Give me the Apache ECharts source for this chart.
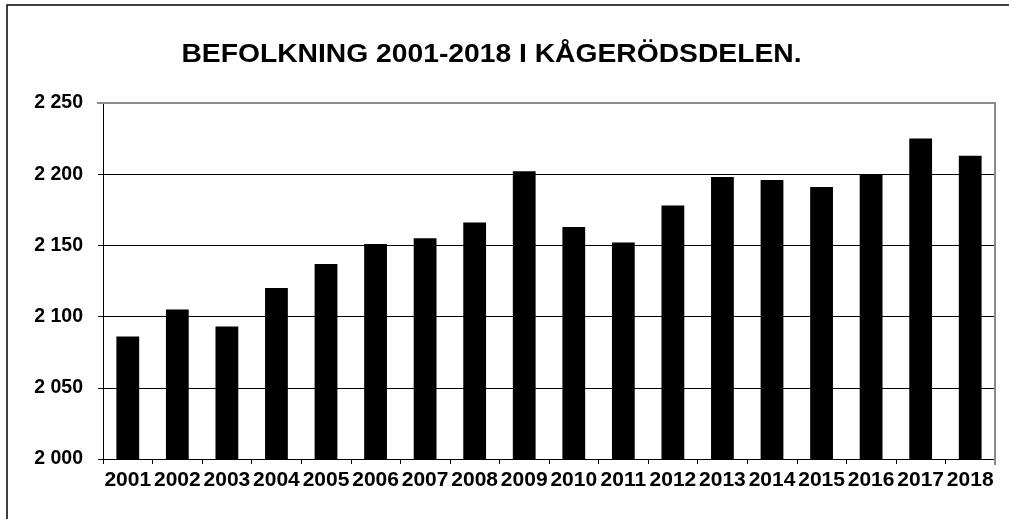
<!DOCTYPE html>
<html>
<head>
<meta charset="utf-8">
<script src="https://cdn.jsdelivr.net/npm/echarts@6/dist/echarts.min.js"></script>
<style>
html,body{margin:0;padding:0;background:#fff;}
#chart{width:1009px;height:519px;}
</style>
</head>
<body>
<div id="chart"></div>
<script>
const titleText = 'BEFOLKNING 2001-2018 I KÅGERÖDSDELEN.';
const years = ['2001','2002','2003','2004','2005','2006','2007','2008','2009','2010','2011','2012','2013','2014','2015','2016','2017','2018'];
const population = [2086, 2105, 2093, 2120, 2137, 2151, 2155, 2166, 2202, 2163, 2152, 2178, 2198, 2196, 2191, 2200, 2225, 2213];
const yMin = 2000;
const yMax = 2250;
const yStep = 50;

function fmt(v) {
  return String(v).replace(/\B(?=(\d{3})+(?!\d))/g, ' ');
}

const font = '"Liberation Sans", Arial, sans-serif';
const chart = echarts.init(document.getElementById('chart'), null, {renderer: 'canvas'});
chart.setOption({
  animation: false,
  backgroundColor: '#fff',
  grid: {left: 103, right: 14, top: 103, bottom: 60, containLabel: false},
  xAxis: {
    type: 'category',
    data: years,
    boundaryGap: true,
    axisLine: {show: true, lineStyle: {color: '#000', width: 1}},
    axisTick: {show: true, alignWithLabel: false, length: 5, lineStyle: {color: '#000'}},
    axisLabel: {interval: 0, margin: 11, color: '#000', fontFamily: font, fontWeight: 'bold', fontSize: 21},
    splitLine: {show: false}
  },
  yAxis: {
    type: 'value',
    min: yMin, max: yMax, interval: yStep,
    axisLine: {show: true, lineStyle: {color: '#000', width: 1}},
    axisTick: {show: true, length: 5, lineStyle: {color: '#000'}},
    axisLabel: {margin: 20, color: '#000', fontFamily: font, fontWeight: 'bold', fontSize: 19.5, formatter: fmt},
    splitLine: {show: true, showMinLine: false, showMaxLine: false, lineStyle: {color: '#000', width: 1}}
  },
  series: [{
    type: 'bar',
    data: population,
    barWidth: '46%',
    itemStyle: {color: '#000'}
  }],
  graphic: [
    {type: 'rect', shape: {x: 7, y: 5, width: 1100, height: 600}, style: {fill: null, stroke: '#000', lineWidth: 1.5}, z: 100, silent: true},
    {type: 'polyline', shape: {points: [[97, 103], [995, 103], [995, 465]]}, style: {fill: null, stroke: '#8c8c8c', lineWidth: 2}, z: 100, silent: true},
    {type: 'text', x: 491.5, y: 55, scaleX: 1.13, style: {text: titleText, fontFamily: font, fontWeight: 'bold', fontSize: 25, fill: '#000', align: 'center', verticalAlign: 'middle'}, z: 100}
  ]
});
</script>
</body>
</html>
